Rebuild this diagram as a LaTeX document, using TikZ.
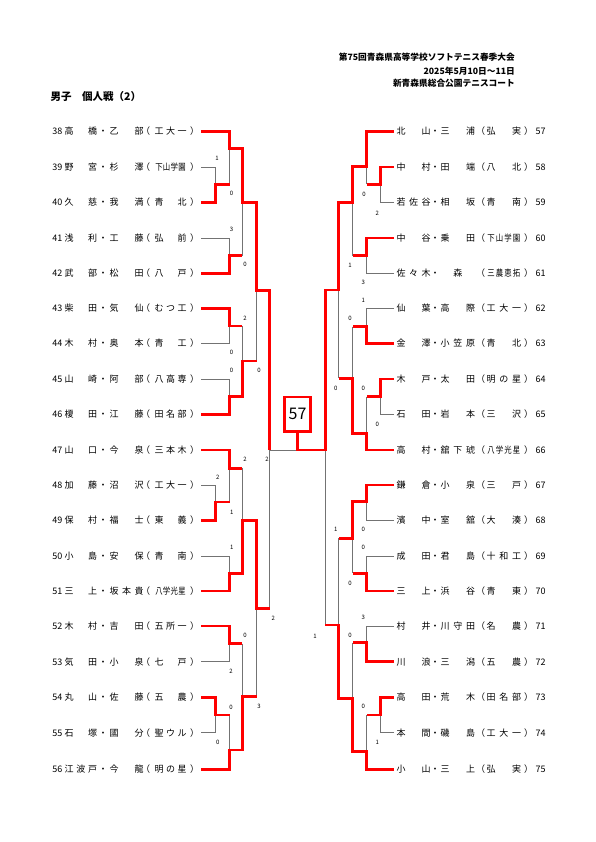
\documentclass[tikz,border=0pt]{standalone}
\usepackage{fontspec}
\setmainfont{Noto Sans CJK JP}
\tikzset{
  rl/.style={draw=red, line width=2.8pt, line join=miter},
  gl/.style={draw=black!55, line width=0.7pt},
  nm/.style={inner sep=0pt, font=\fontsize{9}{9}\selectfont, text height=7.9pt, text depth=1.1pt},
  sc/.style={inner sep=0pt, font=\fontsize{6}{6}\selectfont, text height=5.3pt, text depth=0.7pt},
  hd/.style={inner sep=0pt, anchor=east, font=\fontsize{8.7}{8.7}\selectfont\bfseries, text height=7.6pt, text depth=1pt},
}
\newcommand\cntlist[1]{\gdef\nn{0}\foreach \ch in {#1}{\xdef\nn{\the\numexpr\nn+1\relax}}}
\newcommand\spreadch[4]{\cntlist{#4}\foreach \ch [count=\k] in {#4}{\pgfmathsetmacro\xx{#1+(#2-#1)*(\k-1)/max(\nn-1,1)+(\nn==1)*(#2-#1)/2}\node[nm] at (\xx,#3) {\ifnum\nn>3 \scalebox{0.82}[1]{\ch}\else\ch\fi};}}
\newcommand\pL[5]{%
  \node[nm,anchor=east] (p#2) at (62.5,#1) {#2};
  \spreadch{69}{92.5}{#1}{#3}
  \node[nm] at (103,#1) {・};
  \spreadch{114}{139}{#1}{#4}
  \node[nm] at (145.5,#1) {（};
  \spreadch{159}{182}{#1}{#5}
  \node[nm] at (194.5,#1) {）};
}
\newcommand\pR[5]{%
  \node[nm,anchor=west] (p#2) at (535.5,#1) {#2};
  \spreadch{401}{426}{#1}{#3}
  \node[nm] at (435,#1) {・};
  \spreadch{445}{470.5}{#1}{#4}
  \node[nm] at (480.5,#1) {（};
  \spreadch{491}{516.5}{#1}{#5}
  \node[nm] at (528.5,#1) {）};
}
\begin{document}
\begin{tikzpicture}[x=1pt,y=-1pt]
\fill[white] (0,0) rectangle (595,842);
\useasboundingbox (0,0) rectangle (595,842);

% header
\node[hd] (h1) at (515,57.3) {第75回青森県高等学校ソフトテニス春季大会};
\node[hd] (h2) at (515,71.7) {2025年5月10日～11日};
\node[hd] (h3) at (515,83.3) {新青森県総合公園テニスコート};
\node[inner sep=0pt, anchor=west, font=\fontsize{10.5}{10.5}\selectfont\bfseries, text height=9.2pt, text depth=1.3pt] (title) at (50.5,96.7) {男子　個人戦（2）};

% ---------- gray lines (left) ----------
\draw[gl] (201,167) -| (215.5,184.3);
\draw[gl] (229.5,148.5) -- (229.5,184.3);
\draw[gl] (201,238) -| (229.5,255.5);
\draw[gl] (242.3,202.3) -- (242.3,255.5);
\draw[gl] (201,343.5) -| (229.5,326);
\draw[gl] (201,379) -| (229.5,396.7);
\draw[gl] (242.3,326) -- (242.3,361);
\draw[gl] (256.5,290.5) -- (256.5,361);
\draw[gl] (201,485) -| (215.5,502);
\draw[gl] (229.5,468.3) -- (229.5,502);
\draw[gl] (201,556) -| (229.5,573.5);
\draw[gl] (242.3,468.3) -- (242.3,520.5);
\draw[gl] (201,661.7) -| (229.5,643.5);
\draw[gl] (201,732.7) -| (215.5,715);
\draw[gl] (229.5,715) -- (229.5,750);
\draw[gl] (242.3,643.5) -- (242.3,696.7);
\draw[gl] (256.5,608.3) -- (256.5,696.7);
\draw[gl] (269.5,450) -- (269.5,608.3);
\draw[gl] (269.5,450) -- (297.7,450);

% ---------- gray lines (right) ----------
\draw[gl] (394,202.5) -| (380.5,184.5);
\draw[gl] (366.7,166.7) -- (366.7,184.5);
\draw[gl] (394,273.3) -| (366.7,255.7);
\draw[gl] (352.7,202.3) -- (352.7,255.7);
\draw[gl] (394,308.5) -| (366.7,326.7);
\draw[gl] (352.7,326.7) -- (352.7,378.3);
\draw[gl] (394,414.5) -| (380.5,396.7);
\draw[gl] (366.7,396.7) -- (366.7,433.3);
\draw[gl] (338.7,290) -- (338.7,378.3);
\draw[gl] (394,520.5) -| (366.7,501.7);
\draw[gl] (394,556) -| (366.7,573.3);
\draw[gl] (352.7,538.3) -- (352.7,573.3);
\draw[gl] (394,626) -| (366.7,642.7);
\draw[gl] (352.7,642.7) -- (352.7,698.3);
\draw[gl] (394,732.7) -| (380.5,715);
\draw[gl] (366.7,715) -- (366.7,751.7);
\draw[gl] (338.7,538.3) -- (338.7,625);
\draw[gl] (325.3,450) -- (325.3,625);

% ---------- red lines (left) ----------
\draw[rl] (201,131.5) -| (229.5,148.5) -| (242.3,202.3) -| (256.5,290.5) -| (269.5,450);
\draw[rl] (201,202.5) -| (215.5,184.3) -- (229.5,184.3);
\draw[rl] (201,273.3) -| (229.5,255.5) -- (242.3,255.5);
\draw[rl] (201,308.5) -| (229.5,326) -- (242.3,326);
\draw[rl] (201,414.5) -| (229.5,396.7) -| (242.3,361) -- (256.5,361);
\draw[rl] (201,450) -| (229.5,468.3) -- (242.3,468.3);
\draw[rl] (201,520.5) -| (215.5,502) -- (229.5,502);
\draw[rl] (201,591) -| (229.5,573.5) -| (242.3,520.5) -| (256.5,608.3) -- (269.5,608.3);
\draw[rl] (201,626) -| (229.5,643.5) -- (242.3,643.5);
\draw[rl] (201,697.3) -| (215.5,715) -- (229.5,715);
\draw[rl] (201,769.3) -| (229.5,750) -| (242.3,696.7) -- (256.5,696.7);

% ---------- final box ----------
\node[draw=red, line width=2.7pt, minimum width=25.7pt, minimum height=34.3pt, inner sep=0pt,
      font=\fontsize{16}{16}\selectfont] (box) at (297.5,414.2) {57};

% ---------- red lines (right) ----------
\draw[rl] (394,131.5) -| (366.7,166.7) -| (352.7,202.3) -| (338.7,290) -| (325.3,450) -| (box.south);
\draw[rl] (394,167) -| (380.5,184.5) -- (366.7,184.5);
\draw[rl] (394,238) -| (366.7,255.7) -- (352.7,255.7);
\draw[rl] (394,343.5) -| (366.7,326.7) -- (352.7,326.7);
\draw[rl] (394,379) -| (380.5,396.7) -- (366.7,396.7);
\draw[rl] (394,450) -| (366.7,433.3) -| (352.7,378.3) -- (338.7,378.3);
\draw[rl] (394,485) -| (366.7,501.7) -| (352.7,538.3) -- (338.7,538.3);
\draw[rl] (394,591) -| (366.7,573.3) -- (352.7,573.3);
\draw[rl] (394,661.7) -| (366.7,642.7) -- (352.7,642.7);
\draw[rl] (394,697.3) -| (380.5,715) -- (366.7,715);
\draw[rl] (394,769.3) -| (366.7,751.7) -| (352.7,698.3) -| (338.7,625) -- (325.3,625);

% ---------- scores ----------
\foreach \sx/\sy/\st in {217/158.5/1, 231.5/193.5/0, 231.5/229/3, 245/264.3/0, 245/318/2,
  231.5/352.3/0, 231.5/370/0, 259/370/0, 245/459/2, 267/459/2, 217.7/476.7/2, 231.7/511.7/1,
  231.7/547.3/1, 245/635/0, 273.3/618.3/2, 231/671/2, 231/706.7/0, 259/706/3, 217.7/741.7/0,
  364/194.3/0, 377.3/212.7/2, 350/265/1, 363.3/281.7/3, 363.3/300/1, 350/317.7/0, 363.3/387.7/0,
  335.7/387.7/0, 377.3/424/0, 335.7/529.3/1, 363.3/529.3/0, 363.3/547.3/0, 350/582.7/0,
  363.3/617.3/3, 350/635/0, 363.3/706/0, 377.3/741.7/1, 315/636/1}
  \node[sc] at (\sx,\sy) {\st};

% ---------- players (left) ----------
\pL{131.5}{38}{高,橋}{乙,部}{工,大,一}
\pL{167}{39}{野,宮}{杉,澤}{下,山,学,園}
\pL{202.5}{40}{久,慈}{我,満}{青,北}
\pL{238}{41}{浅,利}{工,藤}{弘,前}
\pL{273.3}{42}{武,部}{松,田}{八,戸}
\pL{308.5}{43}{柴,田}{気,仙}{む,つ,工}
\pL{343.5}{44}{木,村}{奥,本}{青,工}
\pL{379}{45}{山,崎}{阿,部}{八,高,専}
\pL{414.5}{46}{榎,田}{江,藤}{田,名,部}
\pL{450}{47}{山,口}{今,泉}{三,本,木}
\pL{485}{48}{加,藤}{沼,沢}{工,大,一}
\pL{520.5}{49}{保,村}{福,士}{東,義}
\pL{556}{50}{小,島}{安,保}{青,南}
\pL{591}{51}{三,上}{坂,本,貴}{八,学,光,星}
\pL{626}{52}{木,村}{吉,田}{五,所,一}
\pL{661.7}{53}{気,田}{小,泉}{七,戸}
\pL{697.3}{54}{丸,山}{佐,藤}{五,農}
\pL{732.7}{55}{石,塚}{國,分}{聖,ウ,ル}
\pL{769.3}{56}{江,波,戸}{今,龍}{明,の,星}

% ---------- players (right) ----------
\pR{131.5}{57}{北,山}{三,浦}{弘,実}
\pR{167}{58}{中,村}{田,端}{八,北}
\pR{202.5}{59}{若,佐,谷}{相,坂}{青,南}
\pR{238}{60}{中,谷}{乗,田}{下,山,学,園}
\pR{273.3}{61}{佐,々,木}{森}{三,農,恵,拓}
\pR{308.5}{62}{仙,葉}{高,際}{工,大,一}
\pR{343.5}{63}{金,澤}{小,笠,原}{青,北}
\pR{379}{64}{木,戸}{太,田}{明,の,星}
\pR{414.5}{65}{石,田}{岩,本}{三,沢}
\pR{450}{66}{高,村}{舘,下,琥}{八,学,光,星}
\pR{485}{67}{鎌,倉}{小,泉}{三,戸}
\pR{520.5}{68}{濱,中}{室,舘}{大,湊}
\pR{556}{69}{成,田}{君,島}{十,和,工}
\pR{591}{70}{三,上}{浜,谷}{青,東}
\pR{626}{71}{村,井}{川,守,田}{名,農}
\pR{661.7}{72}{川,浪}{三,潟}{五,農}
\pR{697.3}{73}{高,田}{荒,木}{田,名,部}
\pR{732.7}{74}{本,間}{磯,島}{工,大,一}
\pR{769.3}{75}{小,山}{三,上}{弘,実}
\end{tikzpicture}
\end{document}
